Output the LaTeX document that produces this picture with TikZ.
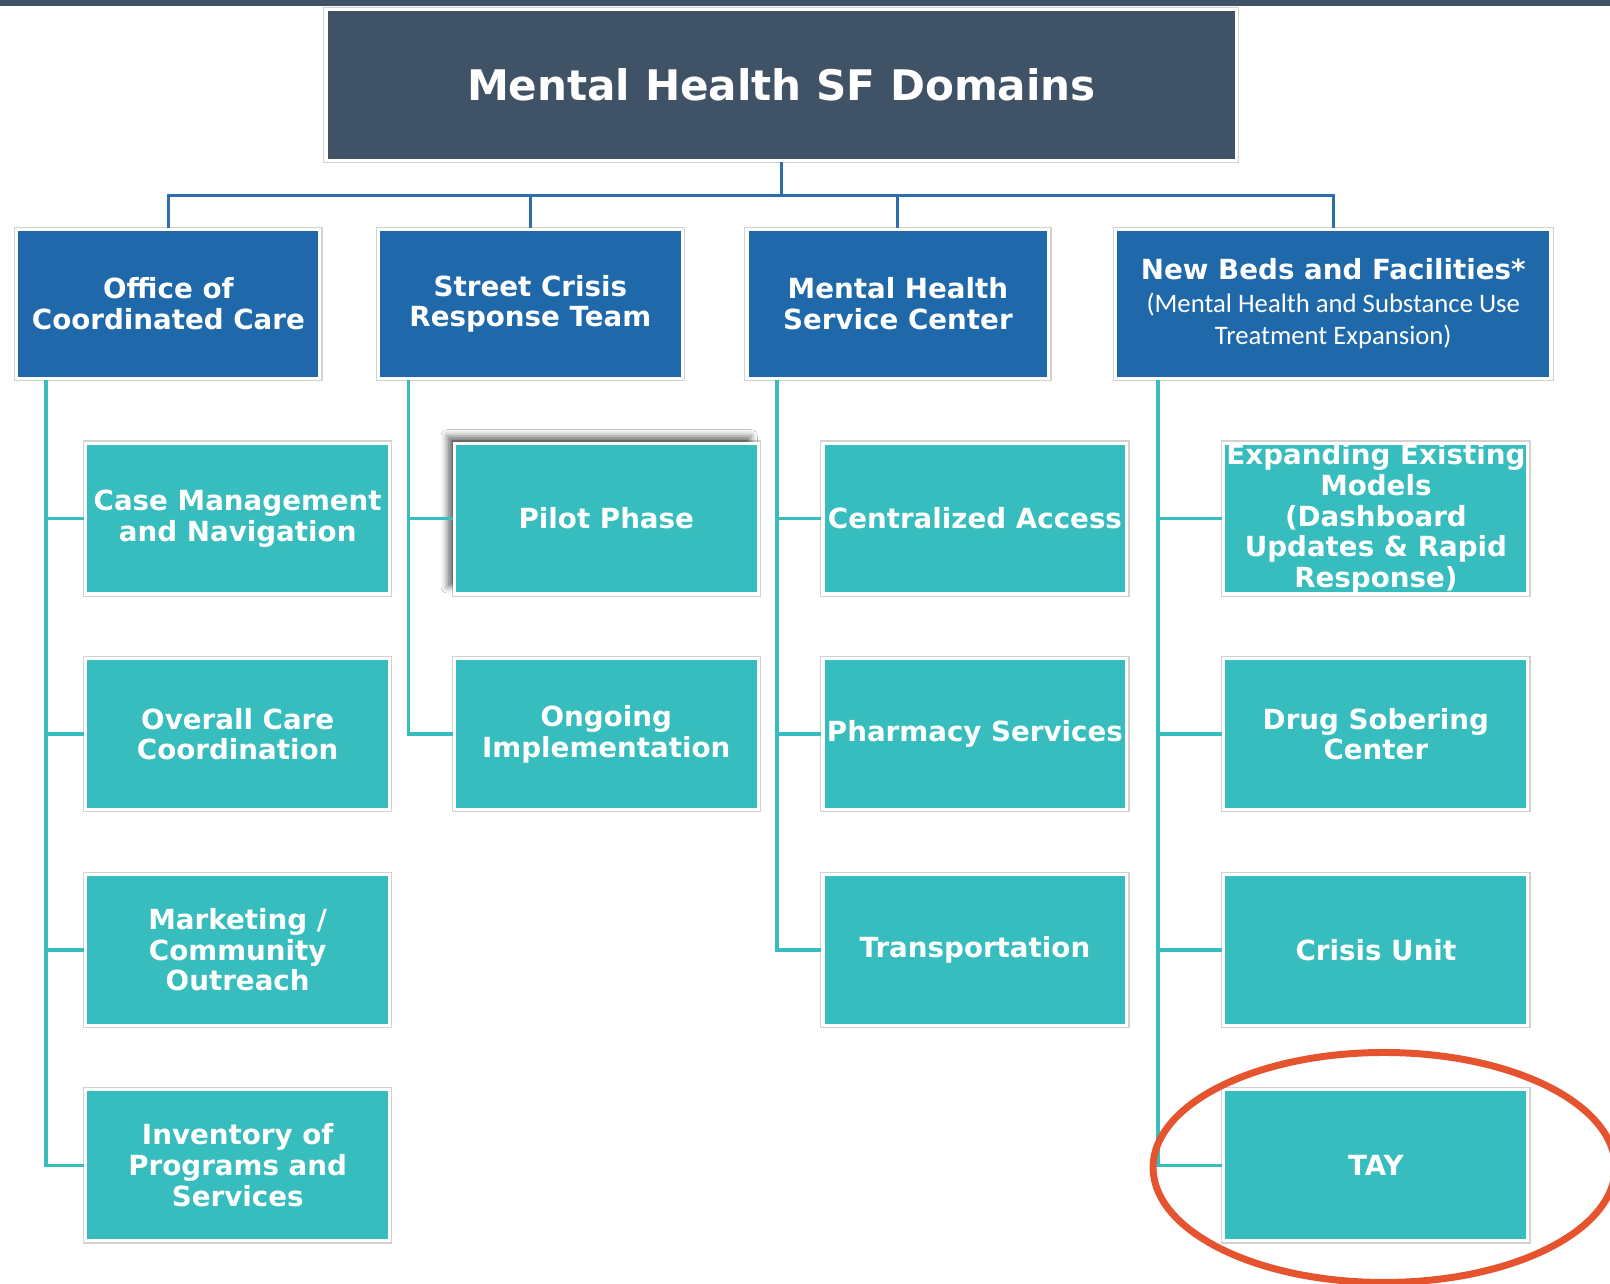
\documentclass[tikz,border=0pt]{standalone}
\usepackage{fontspec}
\setmainfont{DejaVu Sans}
\newfontfamily\calib{Carlito}
\usetikzlibrary{shadows.blur}
\definecolor{slate}{HTML}{405266}
\definecolor{lvlblue}{HTML}{1F69AB}
\definecolor{linkblue}{HTML}{2C6EB0}
\definecolor{tealbox}{HTML}{38BDBE}
\definecolor{ringred}{HTML}{E5542E}
\definecolor{rim}{HTML}{D2D2D2}
\tikzset{
 framedbox/.style={rectangle, draw=white, line width=1.5pt, preaction={draw=rim, line width=2.6pt}, text=white, align=center, inner xsep=1pt, inner ysep=2pt, font=\fontsize{13.5pt}{15pt}\selectfont\bfseries},
 titlebox/.style={framedbox, fill=slate, minimum width=443.5pt, minimum height=73.5pt, font=\fontsize{20.5pt}{24pt}\selectfont\bfseries},
 domainbox/.style={framedbox, fill=lvlblue, minimum height=72.5pt},
 itembox/.style={framedbox, fill=tealbox, minimum width=148pt, minimum height=73.5pt},
 busline/.style={draw=linkblue, line width=1.5pt},
 spineline/.style={draw=tealbox, line width=1.75pt},
}
\begin{document}
\begin{tikzpicture}[x=0.5pt,y=-0.5pt]
\useasboundingbox (0,0) rectangle (1568,1250);
\clip (0,0) rectangle (1568,1250);
\fill[white] (0,0) rectangle (1568,1250);
\fill[slate] (0,0) rectangle (1568,6);

\node[titlebox] (title) at (761,83) {Mental Health SF Domains};

\node[domainbox, minimum width=147.5pt] (occ) at (164,296) {Office of\\Coordinated Care};
\node[domainbox, minimum width=148pt] (scrt) at (516.5,296) {Street Crisis\\Response Team};
\node[domainbox, minimum width=147pt] (mhsc) at (874.5,296) {Mental Health\\Service Center};
\node[domainbox, minimum width=212pt, font=\fontsize{13.5pt}{15.75pt}\selectfont\bfseries] (nbf) at (1298.5,296)
  {New Beds and Facilities*\\{\calib\mdseries\fontsize{13pt}{15.75pt}\selectfont (Mental Health and Substance Use}\\{\calib\mdseries\fontsize{13pt}{15.75pt}\selectfont Treatment Expansion)}};

% column 1
\node[itembox] (c1a) at (231.5,505) {Case Management\\and Navigation};
\node[itembox] (c1b) at (231.5,715) {Overall Care\\Coordination};
\node[itembox] (c1c) at (231.5,925) {Marketing /\\Community\\Outreach};
\node[itembox] (c1d) at (231.5,1135) {Inventory of\\Programs and\\Services};
% column 2
\node[itembox, blur shadow={shadow xshift=-3.5pt, shadow yshift=3.5pt, shadow blur radius=3pt, shadow opacity=55}] (c2a) at (590.5,505) {Pilot Phase};
\node[itembox] (c2b) at (590.5,715) {Ongoing\\Implementation};
% column 3
\node[itembox] (c3a) at (949.5,505) {Centralized Access};
\node[itembox] (c3b) at (949.5,715) {Pharmacy Services};
\node[itembox] (c3c) at (949.5,925) {Transportation};
% column 4
\node[itembox, inner ysep=0pt] (c4a) at (1340,505) {Expanding Existing\\Models\\(Dashboard\\Updates \& Rapid\\Response)};
\node[itembox] (c4b) at (1340,715) {Drug Sobering\\Center};
\node[itembox] (c4c) at (1340,925) {Crisis Unit};
\node[itembox] (c4d) at (1340,1135) {TAY};

% top bus
\coordinate (j) at (761,190);
\draw[busline] (title.south) -- (j);
\draw[busline] (j) -| (occ.north);
\draw[busline] (j) -| (scrt.north);
\draw[busline] (j) -| (mhsc.north);
\draw[busline] (j) -| (nbf.north);

% spines
\coordinate (s1) at (45,0);
\coordinate (s2) at (398,0);
\coordinate (s3) at (757,0);
\coordinate (s4) at (1128,0);
\draw[spineline] (occ.south -| s1) |- (c1a.west);
\draw[spineline] (occ.south -| s1) |- (c1b.west);
\draw[spineline] (occ.south -| s1) |- (c1c.west);
\draw[spineline] (occ.south -| s1) |- (c1d.west);
\draw[spineline] (scrt.south -| s2) |- (c2a.west);
\draw[spineline] (scrt.south -| s2) |- (c2b.west);
\draw[spineline] (mhsc.south -| s3) |- (c3a.west);
\draw[spineline] (mhsc.south -| s3) |- (c3b.west);
\draw[spineline] (mhsc.south -| s3) |- (c3c.west);
\draw[spineline] (nbf.south -| s4) |- (c4a.west);
\draw[spineline] (nbf.south -| s4) |- (c4b.west);
\draw[spineline] (nbf.south -| s4) |- (c4c.west);
\draw[spineline] (nbf.south -| s4) |- (c4d.west);

% highlight ring
\draw[ringred, line width=3.4pt] (1348,1137) ellipse [x radius=112.5pt, y radius=56pt];
\end{tikzpicture}
\end{document}
